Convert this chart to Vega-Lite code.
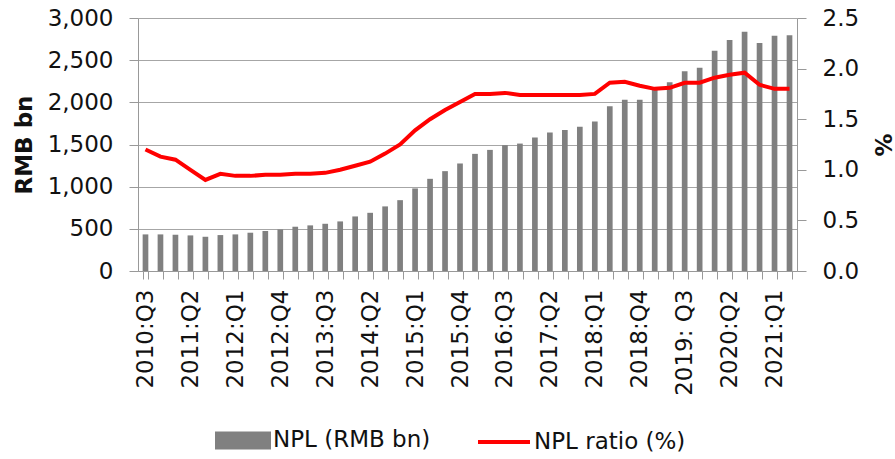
{
  "$schema": "https://vega.github.io/schema/vega-lite/v6.json",
  "autosize": "none",
  "width": 659,
  "height": 253,
  "padding": {"left": 138, "top": 18, "right": 98, "bottom": 188},
  "background": "white",
  "data": {"values": [
    {"p": "2010:Q3", "npl": 434, "ratio": 1.20},
    {"p": "2010:Q4", "npl": 434, "ratio": 1.13},
    {"p": "2011:Q1", "npl": 430, "ratio": 1.10},
    {"p": "2011:Q2", "npl": 422, "ratio": 1.00},
    {"p": "2011:Q3", "npl": 406, "ratio": 0.90},
    {"p": "2011:Q4", "npl": 426, "ratio": 0.96},
    {"p": "2012:Q1", "npl": 434, "ratio": 0.94},
    {"p": "2012:Q2", "npl": 454, "ratio": 0.94},
    {"p": "2012:Q3", "npl": 474, "ratio": 0.95},
    {"p": "2012:Q4", "npl": 493, "ratio": 0.95},
    {"p": "2013:Q1", "npl": 525, "ratio": 0.96},
    {"p": "2013:Q2", "npl": 541, "ratio": 0.96},
    {"p": "2013:Q3", "npl": 560, "ratio": 0.97},
    {"p": "2013:Q4", "npl": 588, "ratio": 1.00},
    {"p": "2014:Q1", "npl": 647, "ratio": 1.04},
    {"p": "2014:Q2", "npl": 690, "ratio": 1.08},
    {"p": "2014:Q3", "npl": 766, "ratio": 1.16},
    {"p": "2014:Q4", "npl": 840, "ratio": 1.25},
    {"p": "2015:Q1", "npl": 979, "ratio": 1.39},
    {"p": "2015:Q2", "npl": 1093, "ratio": 1.50},
    {"p": "2015:Q3", "npl": 1184, "ratio": 1.59},
    {"p": "2015:Q4", "npl": 1275, "ratio": 1.67},
    {"p": "2016:Q1", "npl": 1389, "ratio": 1.75},
    {"p": "2016:Q2", "npl": 1436, "ratio": 1.75},
    {"p": "2016:Q3", "npl": 1492, "ratio": 1.76},
    {"p": "2016:Q4", "npl": 1511, "ratio": 1.74},
    {"p": "2017:Q1", "npl": 1582, "ratio": 1.74},
    {"p": "2017:Q2", "npl": 1641, "ratio": 1.74},
    {"p": "2017:Q3", "npl": 1673, "ratio": 1.74},
    {"p": "2017:Q4", "npl": 1709, "ratio": 1.74},
    {"p": "2018:Q1", "npl": 1772, "ratio": 1.75},
    {"p": "2018:Q2", "npl": 1953, "ratio": 1.86},
    {"p": "2018:Q3", "npl": 2032, "ratio": 1.87},
    {"p": "2018:Q4", "npl": 2032, "ratio": 1.83},
    {"p": "2019:Q1", "npl": 2151, "ratio": 1.80},
    {"p": "2019:Q2", "npl": 2237, "ratio": 1.81},
    {"p": "2019: Q3", "npl": 2368, "ratio": 1.86},
    {"p": "2019:Q4", "npl": 2411, "ratio": 1.86},
    {"p": "2020:Q1", "npl": 2612, "ratio": 1.91},
    {"p": "2020:Q2", "npl": 2739, "ratio": 1.94},
    {"p": "2020:Q3", "npl": 2837, "ratio": 1.96},
    {"p": "2020:Q4", "npl": 2703, "ratio": 1.84},
    {"p": "2021:Q1", "npl": 2790, "ratio": 1.80},
    {"p": "2021:Q2", "npl": 2794, "ratio": 1.80}
  ]},
  "encoding": {
    "x": {
      "field": "p", "type": "ordinal", "sort": null,
      "scale": {"paddingInner": 0.62, "paddingOuter": 0.31},
      "axis": {
        "title": null, "labelAngle": -90, "labelAlign": "right", "labelBaseline": "middle",
        "labelPadding": 10, "tickSize": 8, "tickBand": "extent", "grid": false, "labelOverlap": false,
        "labelExpr": "indexof(['2010:Q3','2011:Q2','2012:Q1','2012:Q4','2013:Q3','2014:Q2','2015:Q1','2015:Q4','2016:Q3','2017:Q2','2018:Q1','2018:Q4','2019: Q3','2020:Q2','2021:Q1'], datum.value) >= 0 ? datum.value : ''"
      }
    }
  },
  "layer": [
    {
      "mark": {"type": "bar"},
      "encoding": {
        "y": {
          "field": "npl", "type": "quantitative",
          "scale": {"domain": [0, 3000]},
          "axis": {"title": "RMB bn", "titleFontWeight": "bold", "titleX": -114, "titleY": 126.5, "titleAngle": -90, "titleAlign": "center", "titleBaseline": "middle", "values": [0, 500, 1000, 1500, 2000, 2500, 3000], "format": ",d", "labelPadding": 16, "tickSize": 9, "grid": true}
        },
        "color": {
          "datum": "NPL (RMB bn)", "type": "nominal",
          "scale": {"domain": ["NPL (RMB bn)", "NPL ratio (%)"], "range": ["#808080", "#ff0000"]},
          "legend": {
            "orient": "none", "legendX": 77, "legendY": 394, "direction": "horizontal", "title": null,
            "labelFont": "DejaVu Sans", "labelFontSize": 23, "labelColor": "#111", "labelOffset": 2, "columnPadding": 39,
            "symbolSize": 2704, "labelLimit": 400,
            "encode": {
              "symbols": {
                "update": {
                  "shape": {"signal": "datum.value === 'NPL (RMB bn)' ? 'M-1,-0.27H1V0.27H-1Z' : 'M-1,0H1'"},
                  "size": {"value": 2704},
                  "fill": {"signal": "datum.value === 'NPL (RMB bn)' ? '#808080' : 'transparent'"},
                  "stroke": {"signal": "datum.value === 'NPL (RMB bn)' ? 'transparent' : '#ff0000'"},
                  "strokeWidth": {"value": 4},
                  "opacity": {"value": 1}
                }
              }
            }
          }
        }
      }
    },
    {
      "mark": {"type": "line", "strokeWidth": 4},
      "encoding": {
        "y": {
          "field": "ratio", "type": "quantitative",
          "scale": {"domain": [0, 2.5]},
          "axis": {"orient": "right", "title": "%", "titleFontWeight": "bold", "titleX": 84, "titleY": 126.5, "titleAngle": 90, "titleAlign": "center", "titleBaseline": "middle", "values": [0, 0.5, 1, 1.5, 2, 2.5], "format": ".1f", "labelPadding": 16, "tickSize": 9, "grid": false}
        },
        "color": {"datum": "NPL ratio (%)", "type": "nominal"}
      }
    }
  ],
  "resolve": {"scale": {"y": "independent"}},
  "config": {
    "font": "DejaVu Sans",
    "view": {"stroke": null},
    "axis": {"labelFont": "DejaVu Sans", "labelFontSize": 23, "labelColor": "#111", "titleFont": "DejaVu Sans", "titleFontSize": 23, "titleColor": "#111", "domainColor": "#999", "tickColor": "#999", "gridColor": "#a6a6a6", "gridWidth": 1.2}
  }
}
